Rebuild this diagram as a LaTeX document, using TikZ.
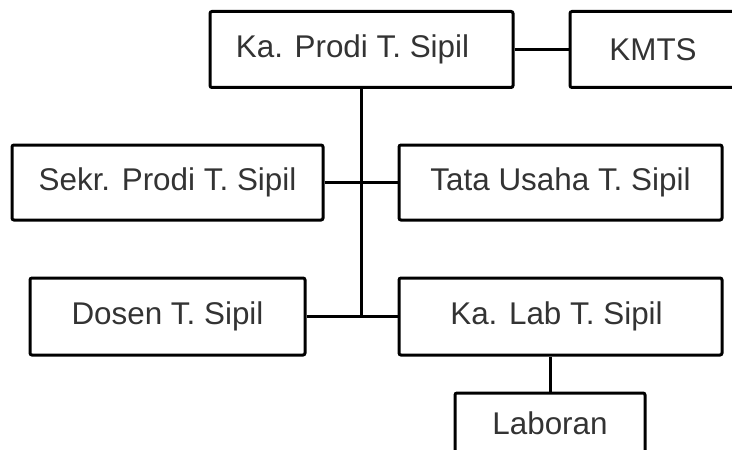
\documentclass[tikz,border=0pt]{standalone}
\usepackage{fontspec}
\setmainfont{Liberation Sans}
\begin{document}
\begin{tikzpicture}[x=0.5pt,y=-0.5pt,line width=1.5pt]
	\tikzset{unit/.style={draw,rounded corners=1pt,inner sep=0pt,minimum height=38pt,font=\fontsize{15.7}{18}\selectfont,text=black!80}}
	\useasboundingbox (0,0) rectangle (732,449);
	\clip (0,0) rectangle (732,449);
	\node[unit,minimum width=151.5pt] (prodi) at (361.5,49.5) {\hspace*{-9pt}Ka. Prodi T. Sipil};
	\node[unit,minimum width=83pt] (kmts) at (653,49.5) {KMTS};
	\node[unit,minimum width=155.5pt,minimum height=37.5pt] (sekr) at (167.5,182.5) {Sekr. Prodi T. Sipil};
	\node[unit,minimum width=161.5pt,minimum height=37.5pt] (tu) at (560.5,182.5) {Tata Usaha T. Sipil};
	\node[unit,minimum width=137.5pt,minimum height=38.5pt] (dosen) at (167.5,316.5) {Dosen T. Sipil};
	\node[unit,minimum width=161.5pt,minimum height=38.5pt] (lab) at (560.5,316.5) {\hspace*{-4pt}Ka. Lab T. Sipil};
	\node[unit,minimum width=95pt,minimum height=30pt] (laboran) at (550,423) {Laboran};
	% connectors
	\draw (prodi.east)--(kmts.west);
	\draw (prodi.south)--(prodi.south |- dosen.east);
	\draw (sekr.east)--(tu.west);
	\draw (dosen.east)--(lab.west);
	\draw (laboran.north)--(laboran.north |- lab.south);
\end{tikzpicture}
\end{document}
